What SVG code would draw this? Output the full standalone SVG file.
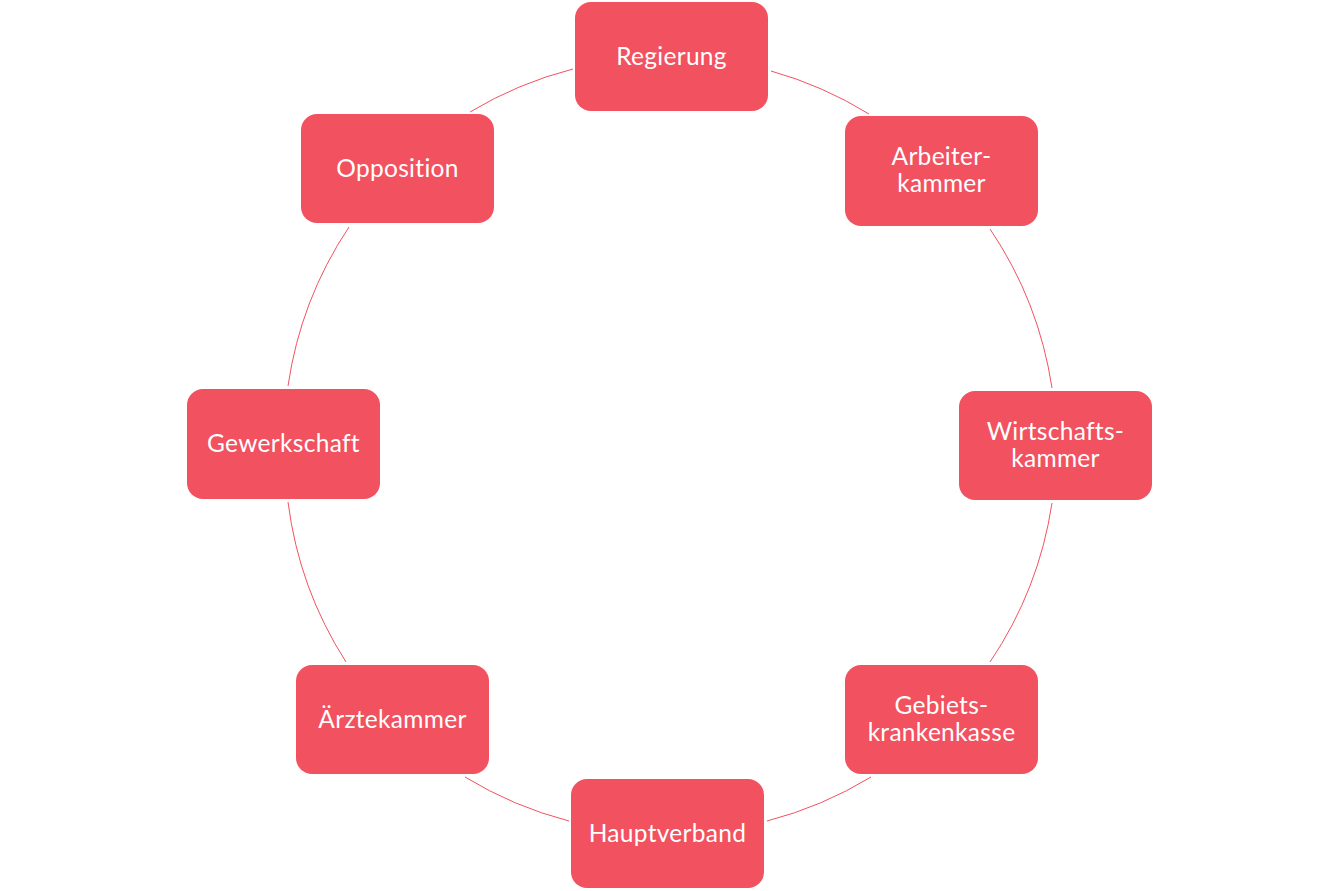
<svg xmlns="http://www.w3.org/2000/svg" width="1334" height="891" viewBox="0 0 1334 891">
<style>
.node rect{fill:#F2515F;}
.node text{fill:#FFFFFF;font-family:Lato,"Noto Sans",sans-serif;font-size:24.5px;font-weight:400;text-anchor:middle;letter-spacing:0.3px;}
.conn path{fill:none;stroke:#F2515F;stroke-width:1;}
</style>
<rect x="0" y="0" width="1334" height="891" fill="#FFFFFF"/>
<g id="connectors" class="conn">
<path d="M771,71 A387,387 0 0 1 869,114"/>
<path d="M990,229 A387,387 0 0 1 1052,388"/>
<path d="M1052,503 A387,387 0 0 1 990,662"/>
<path d="M871,777 A387,387 0 0 1 767,821"/>
<path d="M569,821 A387,387 0 0 1 465,777"/>
<path d="M346,662 A387,387 0 0 1 288,502"/>
<path d="M288,386 A387,387 0 0 1 349,227"/>
<path d="M470,112 A387,387 0 0 1 573,69"/>
</g>
<g id="regierung" class="node"><rect x="575" y="2" width="193" height="109" rx="16"/><text x="671.5" y="65">Regierung</text></g>
<g id="arbeiterkammer" class="node"><rect x="845" y="116" width="193" height="110" rx="16"/><text x="941.5" y="165">Arbeiter-</text><text x="941.5" y="192">kammer</text></g>
<g id="wirtschaftskammer" class="node"><rect x="959" y="391" width="193" height="109" rx="16"/><text x="1055.5" y="440">Wirtschafts-</text><text x="1055.5" y="467">kammer</text></g>
<g id="gebietskrankenkasse" class="node"><rect x="845" y="665" width="193" height="109" rx="16"/><text x="941.5" y="714">Gebiets-</text><text x="941.5" y="741">krankenkasse</text></g>
<g id="hauptverband" class="node"><rect x="571" y="779" width="193" height="109" rx="16"/><text x="667.5" y="842">Hauptverband</text></g>
<g id="aerztekammer" class="node"><rect x="296" y="665" width="193" height="109" rx="16"/><text x="392.5" y="728">Ärztekammer</text></g>
<g id="gewerkschaft" class="node"><rect x="187" y="389" width="193" height="110" rx="16"/><text x="283.5" y="452">Gewerkschaft</text></g>
<g id="opposition" class="node"><rect x="301" y="114" width="193" height="109" rx="16"/><text x="397.5" y="177">Opposition</text></g>
</svg>
